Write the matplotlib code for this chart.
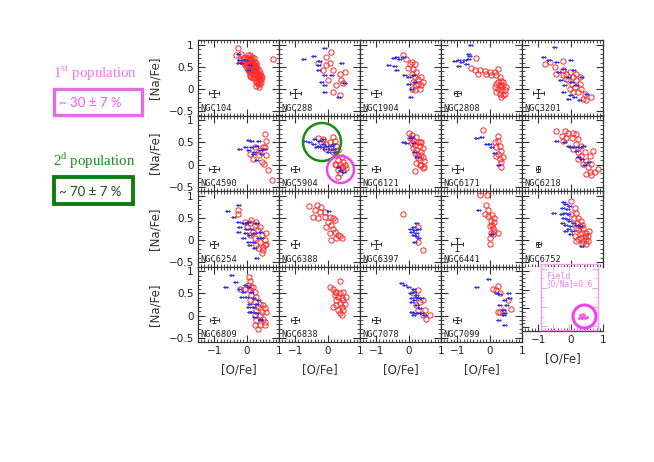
import matplotlib
matplotlib.use("Agg")
import matplotlib.pyplot as plt
from matplotlib.path import Path
from matplotlib.patches import Ellipse, Rectangle
from matplotlib.ticker import FixedLocator, FixedFormatter, MultipleLocator
import numpy as np

plt.rcParams['mathtext.fontset'] = 'custom'
plt.rcParams['mathtext.rm'] = 'Liberation Serif'

# ---------------- data: (O/Fe, Na/Fe) pairs ----------------
NGC104_RED = [(-0.26,0.93),(-0.32,0.77),(-0.16,0.8),(-0.06,0.73),(0.04,0.77),(0.15,0.69),(-0.11,0.62),(0.04,0.62),
              (0.2,0.58),(0.1,0.5),(0.25,0.5),(0.0,0.47),(0.3,0.43),(0.15,0.39),(0.36,0.35),(0.25,0.32),(0.2,0.24),
              (0.36,0.24),(0.3,0.17),(0.4,0.2),(0.36,0.11),(-0.06,0.54),(-0.21,0.65),(0.1,0.65),(0.2,0.43),(0.1,0.35),
              (0.4,0.32),(0.46,0.28),(0.8,0.69),(0.25,0.62),(0.0,0.58),(0.3,0.54),(0.04,0.43),(0.15,0.28),
              (0.05,0.7),(0.12,0.62),(0.18,0.66),(0.22,0.55),(0.28,0.6),(0.33,0.48),(0.38,0.42),(0.42,0.36),
              (0.44,0.22),(0.32,0.28),(0.27,0.38),(0.22,0.45),(0.17,0.52),(0.07,0.55),(0.13,0.45),(0.08,0.4),
              (0.24,0.27),(0.34,0.16),(0.4,0.12),(0.3,0.06),(0.28,0.2),(0.35,0.3),(0.19,0.35),(0.14,0.58),
              (-0.02,0.68),(-0.08,0.6),(0.02,0.52),(0.26,0.44),(0.31,0.37),(0.37,0.26),(0.43,0.3),(0.16,0.72),
              (0.23,0.7),(0.09,0.76),(-0.12,0.7),(0.2,0.5),(0.11,0.3),(0.38,0.05),(0.45,0.15),(0.3,0.5)]
NGC104_BLUE = [(-0.21,0.8),(-0.11,0.58),(-0.16,0.65),(0.0,0.65),(0.15,0.54),(0.1,0.43),(-0.21,0.58)]

NGC288_RED = [(-0.04,0.73),(0.12,0.84),(-0.3,0.58),(0.06,0.58),(0.17,0.43),(0.53,0.39),(0.37,0.35),(0.42,0.2),
              (0.48,0.13),(0.27,0.09),(0.17,-0.06),(0.37,-0.14),(0.01,0.2),(-0.14,0.43),(-0.04,0.54)]
NGC288_BLUE = [(-0.04,0.92),(-0.4,0.74),(-0.71,0.67),(-0.19,0.63),(0.48,0.59),(-0.24,0.43),(-0.04,0.32),(0.17,0.32),
               (-0.14,0.17),(-0.04,0.09),(-0.04,-0.06),(0.58,0.13),(0.37,-0.17),(-0.24,0.54)]

NGC1904_RED = [(-0.17,0.76),(-0.07,0.68),(0.09,0.61),(0.19,0.57),(-0.02,0.47),(0.14,0.46),(0.24,0.38),(0.09,0.35),
               (0.19,0.27),(0.29,0.23),(0.39,0.27),(0.14,0.16),(0.24,0.08),(0.39,0.08),(0.34,0.01),(0.09,0.01),
               (0.19,-0.03),(0.03,0.57),(0.29,0.12),(0.44,0.16)]
NGC1904_BLUE = [(-0.43,0.7),(-0.33,0.72),(-0.22,0.67),(-0.58,0.55),(-0.38,0.53),(-0.33,0.42),(-0.07,0.31),(0.03,0.27),
                (0.19,0.32),(0.03,0.12),(0.14,0.01),(0.09,-0.18),(-0.12,0.72),(0.24,0.16)]

NGC2808_RED = [(-0.41,0.7),(-0.56,0.48),(-0.46,0.42),(-0.31,0.42),(-0.15,0.4),(0.0,0.38),(0.16,0.38),(0.26,0.46),
               (0.21,0.31),(0.31,0.27),(0.36,0.19),(0.21,0.12),(0.31,0.08),(0.41,0.08),(0.26,0.0),(0.36,-0.03),
               (0.46,-0.03),(0.31,-0.11),(0.41,-0.14),(0.21,-0.07),(0.51,0.04),(-0.36,0.34),(-0.1,0.34),(0.05,0.31),
               (0.36,0.04),(0.26,0.16),(0.41,0.16),(0.16,0.04),(0.46,-0.11),(0.36,-0.18)]
NGC2808_BLUE = [(-0.53,1.0),(-0.59,0.8),(-0.56,0.74),(-1.03,0.63),(-0.9,0.66),(-0.82,0.61),(-0.67,0.57),(-0.61,0.68),
                (-0.92,0.53),(-0.74,0.66)]

NGC3201_RED = [(-0.8,0.57),(-0.65,0.61),(-0.23,0.63),(-0.49,0.5),(-0.44,0.35),(-0.23,0.42),(-0.13,0.35),(-0.03,0.39),
               (0.08,0.27),(-0.08,0.2),(0.18,0.2),(0.03,0.12),(0.28,0.12),(0.13,0.04),(0.33,0.01),(0.23,-0.07),
               (0.44,-0.11),(0.64,-0.18),(0.49,-0.26),(0.18,0.35),(-0.13,0.23),(0.08,-0.07),(0.38,-0.22),(-0.23,0.31),
               (0.28,0.27),(-0.03,0.01)]
NGC3201_BLUE = [(-0.44,0.95),(-0.8,0.72),(-0.65,0.66),(-0.39,0.61),(0.03,0.65),(-0.34,0.39),(-0.18,0.46),(-0.03,0.27),
                (-0.13,0.08),(-0.18,-0.07),(0.03,-0.14),(0.18,-0.18),(0.33,-0.26),(0.54,-0.11),(0.23,0.08),(0.08,0.16),
                (0.38,0.27),(-0.28,0.2),(0.13,0.42),(-0.03,-0.22)]

NGC4590_RED = [(0.58,0.69),(0.61,0.54),(0.51,0.39),(0.1,0.24),(0.2,0.13),(0.49,0.06),(0.55,0.02),(0.66,-0.13),
               (0.77,-0.35),(0.4,0.32),(0.25,0.39),(0.61,0.21),(0.38,0.21),(0.56,0.39)]
NGC4590_BLUE = [(0.1,0.56),(0.2,0.54),(0.4,0.54),(0.0,0.39),(-0.16,0.36),(0.2,0.39),(0.35,0.43),(0.46,0.32),
                (0.3,0.28),(0.1,0.32),(0.35,0.1),(0.51,0.24),(0.61,0.36),(0.25,0.23)]

NGC5904_RED = [(-0.3,0.61),(-0.14,0.58),(0.17,0.63),(0.22,0.54),(0.07,0.5),(-0.04,0.47),(0.27,0.43),(0.12,0.39),
               (0.32,0.32),(0.17,0.28),(0.27,0.21),(0.43,0.17),(0.32,0.1),(0.48,0.06),(0.38,0.02),(0.53,-0.01),
               (0.27,-0.01),(0.43,-0.05),(0.32,-0.13),(0.48,-0.13),(0.58,-0.09),(0.38,-0.2),(0.32,-0.29),(0.22,0.02),
               (-0.04,0.36),(-0.19,0.5)]
NGC5904_BLUE = [(-0.66,0.54),(-0.5,0.5),(-0.35,0.58),(-0.19,0.54),(-0.09,0.47),(-0.24,0.43),(-0.4,0.47),(0.01,0.43),
                (0.17,0.43),(-0.04,0.36),(0.12,0.36),(-0.14,0.39),(0.22,0.36),(0.07,0.28),(0.27,0.28),(-0.09,0.58),
                (0.43,-0.13),(0.53,-0.16),(0.38,-0.05),(0.22,0.47),(-0.3,0.39)]

NGC6121_RED = [(0.0,0.71),(0.09,0.67),(0.24,0.63),(0.14,0.56),(0.29,0.52),(0.19,0.44),(0.34,0.41),(0.24,0.33),
               (0.39,0.29),(0.29,0.22),(0.44,0.18),(0.34,0.11),(0.49,0.07),(0.39,-0.01),(0.44,-0.08),(0.19,-0.14),
               (0.03,0.59),(0.39,0.52),(0.14,0.37),(0.44,0.37),(0.19,0.26),(0.29,0.14),(0.39,0.22),(0.24,0.03),
               (0.49,-0.05),(0.34,0.52),(0.09,0.48),(0.34,-0.01)]
NGC6121_BLUE = [(-0.12,0.5),(-0.02,0.48),(0.09,0.59),(0.14,0.63),(0.24,0.29),(0.29,0.18),(0.19,0.48)]

NGC6171_RED = [(-0.2,0.79),(0.26,0.65),(0.26,0.54),(0.31,0.43),(0.21,0.39),(0.36,0.31),(0.26,0.24),(0.41,0.16),
               (0.31,0.13),(0.21,0.2),(0.36,0.05),(0.16,0.5),(0.36,-0.06)]
NGC6171_BLUE = [(-0.36,0.61),(-0.2,0.62),(-0.05,0.47),(0.05,0.46),(0.1,0.4),(0.21,0.27),(0.31,-0.02)]

NGC6218_RED = [(-0.44,0.76),(-0.18,0.77),(-0.08,0.72),(0.08,0.72),(0.18,0.68),(-0.28,0.64),(-0.13,0.61),(0.03,0.61),
               (0.23,0.57),(0.18,0.46),(0.33,0.42),(0.08,0.35),(0.23,0.28),(0.44,0.28),(0.33,0.2),(0.59,0.2),
               (0.23,0.13),(0.49,0.09),(0.38,0.02),(0.64,0.02),(0.54,-0.06),(0.85,-0.1),(0.59,-0.17),(0.75,-0.17),
               (0.49,-0.21),(0.64,-0.24),(-0.23,0.53),(0.69,0.31)]
NGC6218_BLUE = [(-0.39,0.53),(-0.13,0.5),(0.03,0.39),(0.18,0.39),(0.33,0.39),(0.44,0.42),(0.28,0.16),(0.38,0.13),
                (0.49,-0.02),(0.59,0.05),(-0.03,0.42),(0.23,0.31)]

NGC6254_RED = [(-0.26,0.69),(-0.26,0.58),(0.15,0.45),(0.25,0.34),(0.4,0.3),(0.36,0.23),(0.61,0.15),(0.2,0.19),
               (0.46,0.11),(0.56,0.0),(0.4,-0.04),(0.61,-0.08),(0.51,-0.15),(0.36,-0.19),(0.51,-0.23),(0.3,-0.11),
               (0.1,0.11),(0.25,0.04),(0.0,0.3),(0.1,0.38),(0.56,-0.11),(0.46,-0.3),(-0.06,0.41),(0.3,0.41)]
NGC6254_BLUE = [(-0.21,0.79),(-0.54,0.66),(-0.37,0.53),(-0.21,0.41),(-0.06,0.38),(0.1,0.41),(-0.16,0.3),(0.04,0.26),
                (0.2,0.26),(0.36,0.38),(0.0,0.15),(0.15,0.11),(0.3,0.15),(0.46,0.19),(-0.06,0.04),(0.1,-0.04),
                (0.25,-0.04),(0.4,0.04),(0.15,-0.11),(0.3,-0.19),(0.36,-0.41),(-0.21,0.19),(0.51,0.04),(0.04,0.38)]

NGC6388_RED = [(-0.57,0.77),(-0.33,0.79),(-0.19,0.75),(-0.4,0.69),(-0.24,0.64),(-0.45,0.53),(-0.3,0.49),(-0.09,0.51),
               (0.07,0.52),(0.17,0.49),(0.01,0.41),(0.12,0.35),(-0.04,0.3),(0.17,0.24),(0.22,0.19),(0.07,0.15),
               (0.32,0.11),(0.38,0.08),(0.27,0.04),(0.12,0.0),(0.43,0.04),(-0.09,0.64),(0.22,0.45)]
NGC6388_BLUE = [(0.07,0.66)]

NGC6397_RED = [(-0.17,0.6),(0.43,-0.23),(0.29,0.3),(0.29,-0.04)]
NGC6397_BLUE = [(0.09,0.26),(0.19,0.3),(0.29,0.38),(0.24,0.23),(0.29,0.15),(0.19,0.11),(0.29,0.08),(0.24,-0.04),
                (0.34,0.26),(0.14,0.19),(0.34,0.04)]

NGC6441_RED = [(-0.3,1.03),(-0.07,1.03),(-0.11,0.8),(-0.05,0.69),(-0.15,0.58),(-0.04,0.54),(0.08,0.56),(0.15,0.5),
               (0.04,0.43),(0.15,0.41),(0.0,0.32),(0.11,0.28),(0.04,0.17),(0.1,0.13),(0.15,0.2),(0.0,0.05),
               (0.27,0.17),(0.02,-0.08),(0.08,0.35)]
NGC6441_BLUE = [(-0.3,0.67),(0.1,0.14)]

NGC6752_RED = [(0.0,0.88),(0.13,0.73),(0.17,0.62),(0.09,0.5),(0.24,0.5),(0.2,0.39),(0.32,0.43),(0.28,0.32),
               (0.39,0.28),(0.24,0.24),(0.35,0.17),(0.47,0.17),(0.28,0.13),(0.43,0.09),(0.54,0.09),(0.32,0.05),
               (0.47,0.02),(0.24,0.02),(0.39,-0.02),(0.54,-0.02),(0.47,-0.09),(0.35,-0.09),(0.17,-0.02),(0.13,0.09),
               (0.58,0.2),(0.02,0.58),(0.17,0.28),(0.35,0.35)]
NGC6752_BLUE = [(-0.47,0.62),(-0.17,0.85),(-0.1,0.81),(-0.2,0.73),(-0.06,0.7),(-0.13,0.62),(-0.02,0.58),(-0.17,0.5),
                (-0.06,0.47),(0.02,0.43),(-0.1,0.35),(0.05,0.32),(-0.02,0.24),(0.09,0.2),(0.13,0.39),(0.24,0.35),
                (0.35,0.32),(0.05,0.13),(-0.1,0.2),(0.39,-0.13),(-0.25,0.58),(-0.2,0.39),(0.02,0.77)]

NGC6809_RED = [(0.07,0.88),(0.1,0.79),(0.04,0.69),(0.2,0.65),(-0.06,0.61),(0.1,0.58),(0.25,0.54),(0.15,0.46),
               (0.3,0.42),(0.1,0.35),(0.25,0.31),(0.4,0.27),(0.51,0.23),(0.36,0.2),(0.56,0.16),(0.3,0.12),
               (0.46,0.08),(0.61,0.08),(0.25,0.01),(0.4,0.01),(0.51,-0.07),(0.3,-0.11),(0.56,-0.14),(0.4,-0.22),
               (0.25,-0.22),(0.36,-0.3),(0.56,-0.22),(-0.21,0.61),(0.15,0.65)]
NGC6809_BLUE = [(-0.42,0.92),(-0.6,0.64),(-0.31,0.77),(-0.16,0.61),(0.0,0.69),(0.1,0.65),(-0.06,0.54),(0.2,0.54),
                (-0.11,0.42),(0.04,0.42),(0.25,0.39),(0.4,0.35),(0.15,0.27),(0.36,0.27),(0.1,0.2),(0.25,0.2),
                (0.2,0.08),(0.36,0.05),(0.3,-0.03),(0.46,-0.07),(0.46,-0.11),(0.15,0.08)]

NGC6838_RED = [(0.38,0.79),(0.07,0.64),(0.17,0.59),(0.27,0.54),(0.38,0.5),(0.48,0.54),(0.22,0.46),(0.32,0.42),
               (0.43,0.39),(0.27,0.35),(0.48,0.35),(0.38,0.27),(0.53,0.27),(0.27,0.23),(0.43,0.2),(0.32,0.12),
               (0.48,0.12),(0.17,0.2),(0.38,0.05),(0.43,0.01),(0.22,0.54),(0.58,0.42)]
NGC6838_BLUE = []

NGC7078_RED = [(0.29,0.58),(0.14,0.5),(0.45,0.35),(0.24,0.23),(0.29,0.12),(0.45,0.01),(0.55,-0.07),(0.65,0.01),
               (0.34,0.31),(0.5,0.12)]
NGC7078_BLUE = [(-0.17,0.73),(-0.07,0.69),(0.03,0.65),(0.19,0.61),(0.24,0.54),(0.09,0.5),(0.29,0.46),(0.14,0.39),
                (0.34,0.39),(0.24,0.35),(0.45,0.39),(0.14,0.31),(0.29,0.23),(0.39,0.16),(0.14,0.08),(0.24,0.05),
                (0.34,0.05),(0.45,0.05),(0.19,0.01),(0.55,0.01),(0.29,0.42)]

NGC7099_RED = [(0.26,0.67),(0.1,0.61),(0.21,0.58),(0.31,0.5),(0.57,0.36),(0.31,0.08),(0.41,0.11),(0.67,0.14),(0.26,0.08)]
NGC7099_BLUE = [(0.0,0.82),(-0.36,0.65),(0.26,0.5),(0.36,0.48),(0.62,0.5),(0.52,0.35),(0.67,0.39),(0.36,0.23),
                (0.57,0.23),(0.47,0.12),(0.52,0.05),(0.31,-0.11),(0.52,-0.22),(0.47,0.01)]

FIELD_O = [0.35, 0.45, 0.40, 0.50, 0.38, 0.42, 0.55, 0.30, 0.47]
FIELD_NA = [-0.20, -0.25, -0.30, -0.28, -0.27, -0.18, -0.26, -0.28, -0.22]

CLUSTERS = ["NGC104", "NGC288", "NGC1904", "NGC2808", "NGC3201",
            "NGC4590", "NGC5904", "NGC6121", "NGC6171", "NGC6218",
            "NGC6254", "NGC6388", "NGC6397", "NGC6441", "NGC6752",
            "NGC6809", "NGC6838", "NGC7078", "NGC7099"]
RED = [NGC104_RED, NGC288_RED, NGC1904_RED, NGC2808_RED, NGC3201_RED,
       NGC4590_RED, NGC5904_RED, NGC6121_RED, NGC6171_RED, NGC6218_RED,
       NGC6254_RED, NGC6388_RED, NGC6397_RED, NGC6441_RED, NGC6752_RED,
       NGC6809_RED, NGC6838_RED, NGC7078_RED, NGC7099_RED]
BLUE = [NGC104_BLUE, NGC288_BLUE, NGC1904_BLUE, NGC2808_BLUE, NGC3201_BLUE,
        NGC4590_BLUE, NGC5904_BLUE, NGC6121_BLUE, NGC6171_BLUE, NGC6218_BLUE,
        NGC6254_BLUE, NGC6388_BLUE, NGC6397_BLUE, NGC6441_BLUE, NGC6752_BLUE,
        NGC6809_BLUE, NGC6838_BLUE, NGC7078_BLUE, NGC7099_BLUE]
ERR_X = [0.15, 0.17, 0.15, 0.11, 0.17, 0.15, 0.12, 0.12, 0.17, 0.07,
         0.13, 0.13, 0.15, 0.19, 0.08, 0.14, 0.12, 0.13, 0.12]
ERR_Y = [0.075, 0.10, 0.075, 0.06, 0.10, 0.07, 0.07, 0.06, 0.10, 0.06,
         0.07, 0.09, 0.10, 0.14, 0.05, 0.07, 0.07, 0.07, 0.06]

X_TICKS = [-1, 0, 1]
X_TICKLABELS = ["\u22121", "0", "1"]
Y_TICKS = [-0.5, 0, 0.5, 1]
Y_TICKLABELS = ["\u22120.5", "0", "0.5", "1"]

# ---------------- styling ----------------
W, H = 654, 462
RED_C = '#ff2b2b'
BLUE_C = '#2a2ae0'
PINK = '#ee5cee'
PINK_TXT = '#ee77ee'
GREEN = '#1a8c1a'

fig = plt.figure(figsize=(W / 100, H / 100), dpi=100)


def rect(x0, y0, w, h):
    return [x0 / W, 1 - (y0 + h) / H, w / W, h / H]


# left-pointing arrow marker (point at dot on the right)
circ = Path.circle((0, 0), 0.2)
arrow = Path([(-1.0, 0), (-0.5, 0.32), (-0.5, 0.07), (0, 0.07), (0, -0.07), (-0.5, -0.07), (-0.5, -0.32), (-1.0, 0)],
             [Path.MOVETO] + [Path.LINETO] * 6 + [Path.CLOSEPOLY])
ARROW = Path.make_compound_path(arrow, circ)

LEFT, TOP, CW, RH = 198, 40, 81, 75.5
XLIM = (-1.5, 1.0)
YLIM = (-0.6, 1.11)


def style_axes(ax, xl, yl, color='#333333'):
    ax.set_xlim(*XLIM)
    ax.set_ylim(*YLIM)
    ax.xaxis.set_major_locator(FixedLocator(X_TICKS))
    ax.xaxis.set_major_formatter(FixedFormatter(X_TICKLABELS))
    ax.yaxis.set_major_locator(FixedLocator(Y_TICKS))
    ax.yaxis.set_major_formatter(FixedFormatter(Y_TICKLABELS))
    ax.xaxis.set_minor_locator(MultipleLocator(0.1))
    ax.yaxis.set_minor_locator(MultipleLocator(0.1))
    ax.tick_params(which='both', direction='in', top=True, right=True, color=color,
                   labelbottom=xl, labelleft=yl, labelsize=7.5, pad=3, labelcolor='#222222')
    ax.tick_params(which='major', length=5, width=0.8)
    ax.tick_params(which='minor', length=2.5, width=0.6)
    for s in ax.spines.values():
        s.set_linewidth(0.9)
        s.set_color(color)


for i, name in enumerate(CLUSTERS):
    r, c = divmod(i, 5)
    ax = fig.add_axes(rect(LEFT + c * CW, TOP + r * RH, CW, RH))
    style_axes(ax, xl=(r == 3), yl=(c == 0))
    red = RED[i]
    if red:
        ax.plot([p[0] for p in red], [p[1] for p in red], 'o', ms=3.8, mfc='none',
                mec=RED_C, mew=0.7, zorder=3)
    blue = BLUE[i]
    if blue:
        ax.plot([p[0] for p in blue], [p[1] for p in blue], ls='none', marker=ARROW, ms=6,
                mfc=BLUE_C, mec=BLUE_C, mew=0.3, zorder=4)
    ax.errorbar([-1.0], [-0.1], xerr=[ERR_X[i]], yerr=[ERR_Y[i]], fmt='none',
                ecolor='#333333', elinewidth=0.7, capsize=1.5, capthick=0.7)
    ax.text(0.03, 0.035, name, transform=ax.transAxes, fontsize=6.2,
            family='DejaVu Sans Mono', color='#222222', va='bottom', ha='left')
    if c == 0:
        ax.set_ylabel('[Na/Fe]', fontsize=8.5, labelpad=5, color='#333333')
    if r == 3:
        ax.set_xlabel('[O/Fe]', fontsize=8.5, labelpad=5, color='#333333')

# field panel (row 4, column 5)
axf = fig.add_axes(rect(522, 266.5, 81, 64.5))
style_axes(axf, xl=True, yl=False)
axf.spines['top'].set_visible(False)
axf.spines['right'].set_visible(False)
axf.tick_params(which='both', top=False, right=False)
axf.set_xlabel('[O/Fe]', fontsize=8.5, labelpad=5, color='#333333')

axi = fig.add_axes(rect(540.7, 264.3, 57, 65.7))
axi.set_xlim(-0.9, 0.9)
axi.set_ylim(-0.6, 1.11)
axi.patch.set_alpha(0)
axi.xaxis.set_major_locator(MultipleLocator(0.5))
axi.yaxis.set_major_locator(MultipleLocator(0.5))
axi.xaxis.set_minor_locator(MultipleLocator(0.25))
axi.yaxis.set_minor_locator(MultipleLocator(0.25))
axi.tick_params(which='both', direction='in', top=True, right=True, color='#f09cf0',
                labelbottom=False, labelleft=False)
axi.tick_params(which='major', length=4, width=0.7)
axi.tick_params(which='minor', length=2, width=0.5)
for s in axi.spines.values():
    s.set_color('#f09cf0')
    s.set_linewidth(1.0)
axi.plot(FIELD_O, FIELD_NA, 'o', ms=1.2, color=PINK, zorder=3)
axi.text(0.1, 0.82, 'Field', transform=axi.transAxes, fontsize=5.8,
         family='DejaVu Sans Mono', color='#f07cf0', va='center', ha='left')
axi.text(0.09, 0.7, '[O/Na]=0.6', transform=axi.transAxes, fontsize=5.5,
         family='DejaVu Sans Mono', color='#f07cf0', va='center', ha='left')


def circle_px(cx, cy, r, color, lw):
    e = Ellipse((cx / W, 1 - cy / H), 2 * r / W, 2 * r / H, transform=fig.transFigure,
                fill=False, edgecolor=color, linewidth=lw, zorder=10)
    fig.add_artist(e)


circle_px(322, 142, 19, GREEN, 1.8)
circle_px(340.5, 169.5, 13.5, '#f044f0', 1.8)
circle_px(584.5, 316.5, 11.5, '#f044f0', 2.2)

# left annotations
fig.text(95.5 / W, 1 - 73 / H, '1$^{\\rm st}$ population', fontsize=10.7,
         family='Liberation Serif', color=PINK_TXT, ha='center', va='center')
fig.add_artist(Rectangle((54 / W, 1 - 115 / H), 88 / W, 26 / H, transform=fig.transFigure,
                         fill=False, edgecolor='#e070e0', linewidth=2.4))
fig.text(59 / W, 1 - 103 / H, '~ 30 \u00b1 7 %', fontsize=9.5, family='Lato',
         color=PINK, ha='left', va='center')

fig.text(94.5 / W, 1 - 161 / H, '2$^{\\rm d}$ population', fontsize=10.7,
         family='Liberation Serif', color=GREEN, ha='center', va='center')
fig.add_artist(Rectangle((54 / W, 1 - 204 / H), 79 / W, 27 / H, transform=fig.transFigure,
                         fill=False, edgecolor='#117a11', linewidth=2.8))
fig.text(59 / W, 1 - 191.5 / H, '~ 70 \u00b1 7 %', fontsize=9.5, family='Lato',
         color='#145214', ha='left', va='center')

fig.savefig('out.png', dpi=100)
